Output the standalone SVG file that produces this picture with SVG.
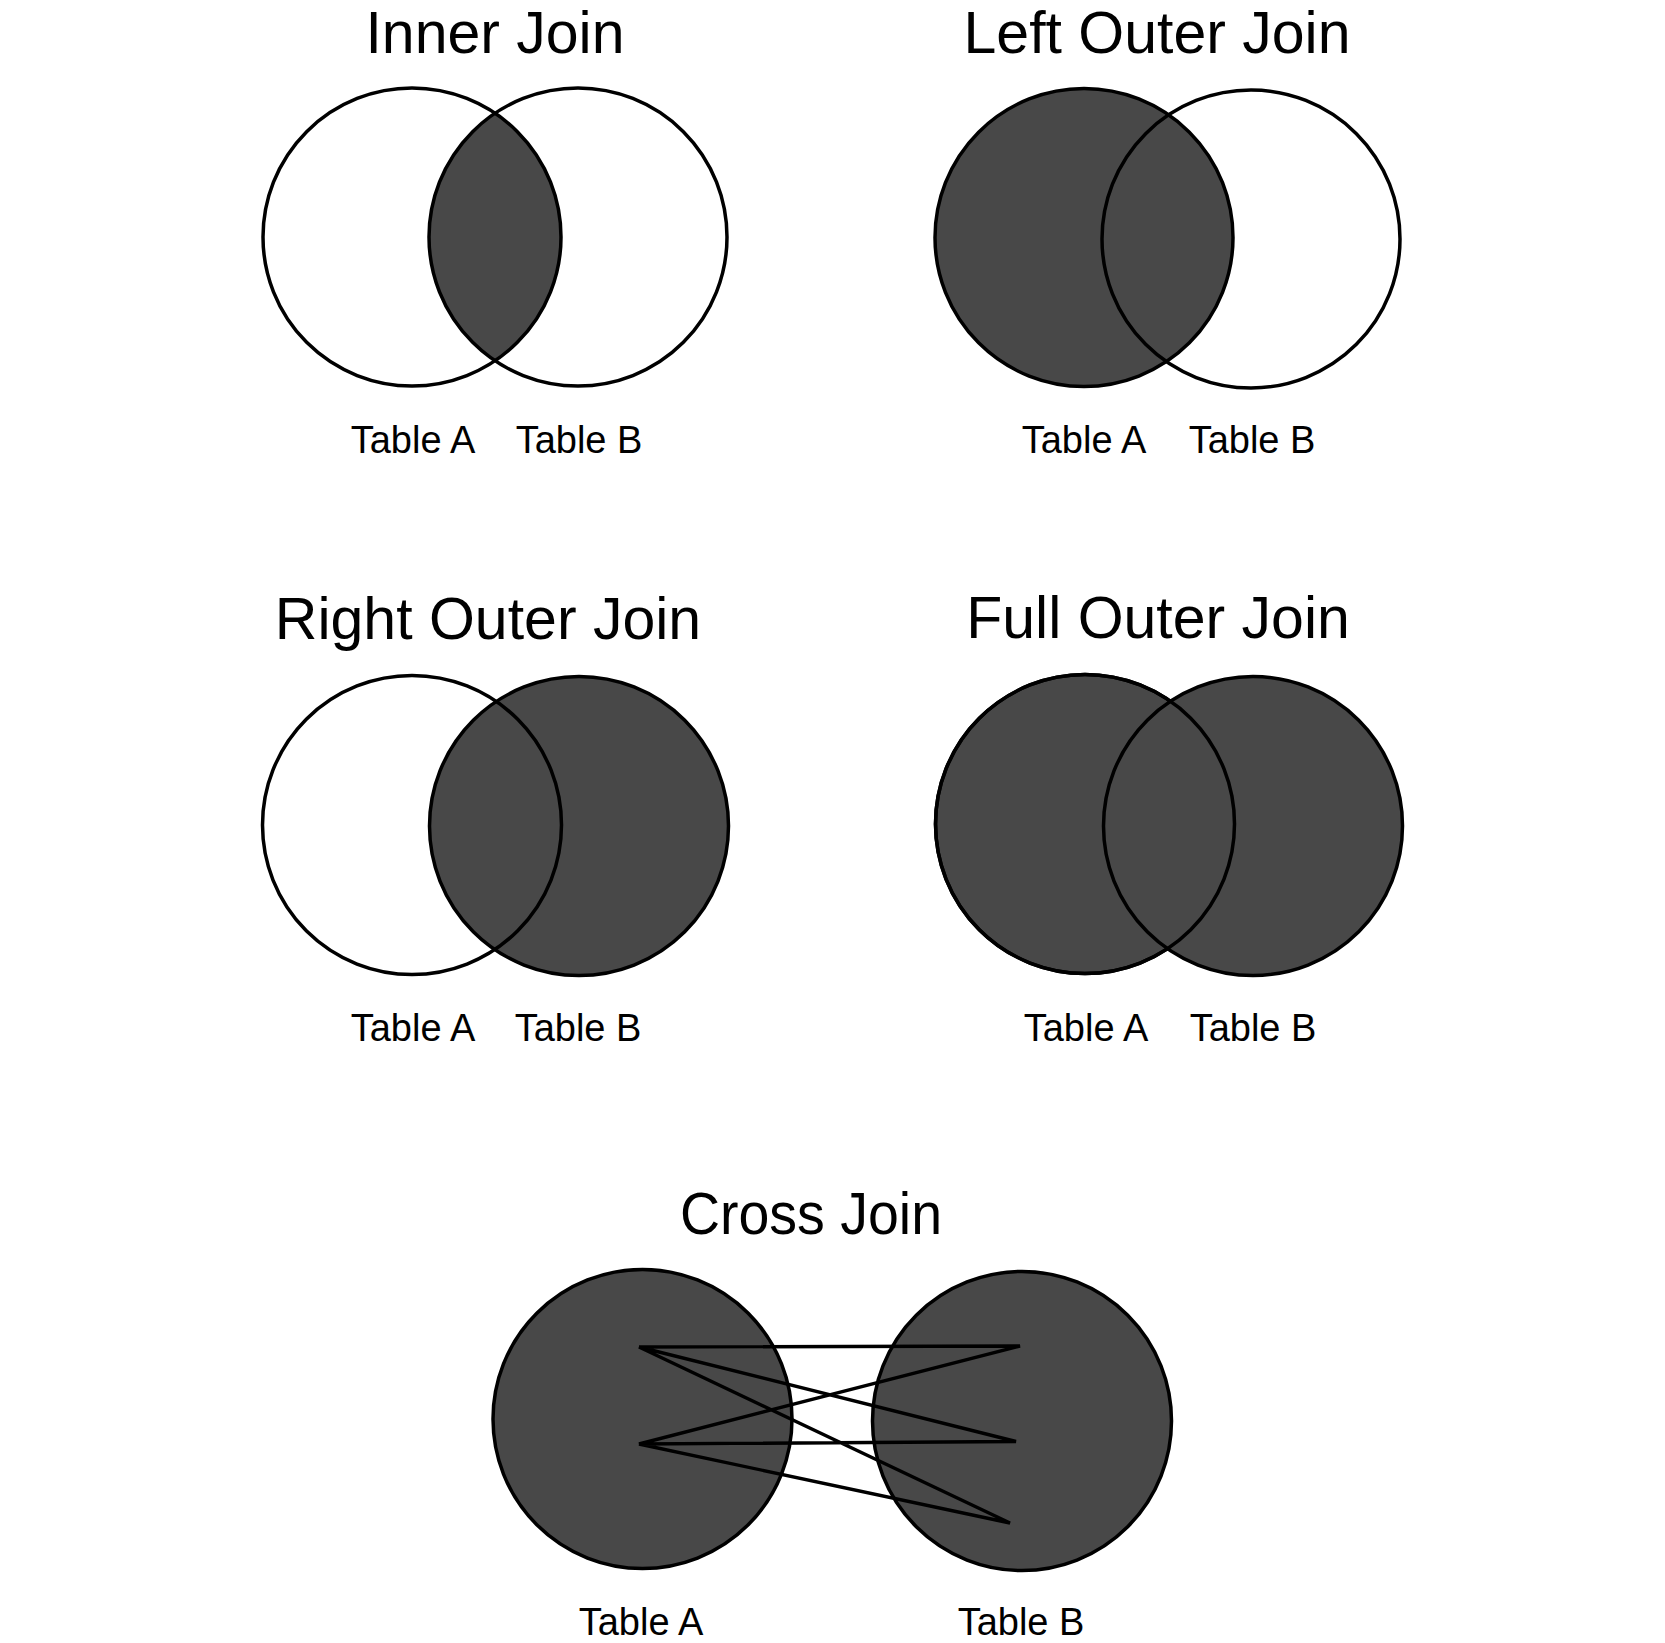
<svg xmlns="http://www.w3.org/2000/svg" width="1665" height="1643" viewBox="0 0 1665 1643">
<style>
.bg{fill:#ffffff}
.title{font-family:"Liberation Sans",Arial,sans-serif;font-size:59px;fill:#000;text-anchor:middle}
.label{font-family:"Liberation Sans",Arial,sans-serif;font-size:38px;fill:#000;text-anchor:middle}
.dark{fill:#484848;stroke:#000;stroke-width:3.5}
.open{fill:none;stroke:#000;stroke-width:3.5}
.fillonly{fill:#484848;stroke:none}
.link{fill:none;stroke:#000;stroke-width:3.4;stroke-linejoin:bevel;stroke-linecap:butt}
</style>
<defs>
<clipPath id="clipInnerA"><circle cx="412" cy="237" r="149"/></clipPath>
</defs>
<rect class="bg" x="0" y="0" width="1665" height="1643"/>

<g id="inner-join">
<text class="title" x="495" y="53">Inner Join</text>
<circle class="fillonly" cx="578" cy="237" r="149" clip-path="url(#clipInnerA)"/>
<circle class="open" cx="412" cy="237" r="149"/>
<circle class="open" cx="578" cy="237" r="149"/>
<text class="label" x="413" y="453">Table A</text>
<text class="label" x="579" y="453">Table B</text>
</g>

<g id="left-outer-join">
<text class="title" x="1157" y="53">Left Outer Join</text>
<circle class="dark" cx="1084" cy="237.5" r="149"/>
<circle class="open" cx="1251" cy="239" r="149"/>
<text class="label" x="1084" y="453">Table A</text>
<text class="label" x="1252" y="453">Table B</text>
</g>

<g id="right-outer-join">
<text class="title" x="488" y="639">Right Outer Join</text>
<circle class="dark" cx="579" cy="826" r="149.5"/>
<circle class="open" cx="412" cy="825" r="149.5"/>
<text class="label" x="413" y="1041">Table A</text>
<text class="label" x="578" y="1041">Table B</text>
</g>

<g id="full-outer-join">
<text class="title" x="1158" y="638">Full Outer Join</text>
<circle class="dark" cx="1085" cy="824" r="149.5"/>
<circle class="dark" cx="1253" cy="826" r="149.5"/>
<circle class="open" cx="1085" cy="824" r="149.5"/>
<text class="label" x="1086" y="1041">Table A</text>
<text class="label" x="1253" y="1041">Table B</text>
</g>

<g id="cross-join">
<text class="title" x="811" y="1234" textLength="262" lengthAdjust="spacingAndGlyphs">Cross Join</text>
<g id="cross-table-a">
<circle class="dark" cx="642.5" cy="1419" r="149.5"/>
<text class="label" x="641" y="1635">Table A</text>
</g>
<g id="cross-table-b">
<circle class="dark" cx="1022" cy="1421" r="149.5"/>
<text class="label" x="1021" y="1635">Table B</text>
</g>
</g>

<g id="connectors">
<path class="link" d="M639,1347 L1020,1346 L639,1444 L1016,1441.5 L639,1347 L1010,1523 L639,1444"/>
</g>
</svg>
